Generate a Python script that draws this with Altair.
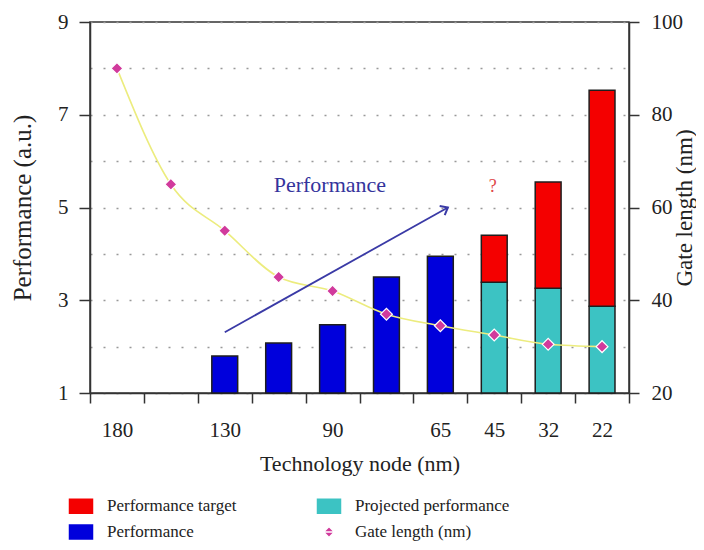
import altair as alt
import pandas as pd

# ---------------- data ----------------
tick_labels = ["180", "", "130", "", "90", "", "65", "45", "32", "22"]
gate_length = [90, 65, 55, 45, 42, 37, 34.5, 32.5, 30.5, 30]
performance = [None, None, 1.8, 2.08, 2.47, 3.5, 3.95, None, None, None]
projected = [None, None, None, None, None, None, None, 3.39, 3.26, 2.87]
target = [None, None, None, None, None, None, None, 4.40, 5.55, 7.53]
left_ticks = [1, 3, 5, 7, 9]
right_ticks = [20, 40, 60, 80, 100]
series_names = ["Performance target", "Performance", "Projected performance", "Gate length (nm)"]
series_colors = ["#f40000", "#0000dc", "#3cc3c3", "#d13a9c"]
annot_text = ["Performance", "?"]
annot_x = [4.45, 7.47]
annot_y = [5.48, 5.45]
arrow_x = [2.5, 6.64]
arrow_y = [2.31, 5.0]

FONT = "Liberation Serif"
positions = list(range(len(tick_labels)))
base = left_ticks[0]

rows = []
for i in positions:
    if performance[i] is not None:
        rows.append(dict(pos=i, series="Performance", low=base, high=performance[i]))
    if projected[i] is not None:
        rows.append(dict(pos=i, series="Projected performance", low=base, high=projected[i]))
        rows.append(dict(pos=i, series="Performance target", low=projected[i], high=target[i]))
bars_df = pd.DataFrame(rows)
gate_df = pd.DataFrame({"pos": positions, "gate": gate_length})
arrow_df = pd.DataFrame({"ax": arrow_x, "ay": arrow_y})
head_df = arrow_df.tail(1)
perf_df = pd.DataFrame({"tx": annot_x[:1], "ty": annot_y[:1], "t": annot_text[:1]})
q_df = pd.DataFrame({"tx": annot_x[1:], "ty": annot_y[1:], "t": annot_text[1:]})

label_array = "[" + ",".join("'" + t + "'" for t in tick_labels) + "]"
grid_vals = list(range(left_ticks[0], left_ticks[-1] + 1))

x_band_scale = alt.Scale(type="band", domain=positions, paddingInner=0, paddingOuter=0)
y_left_scale = alt.Scale(domain=[left_ticks[0], left_ticks[-1]], nice=False, zero=False)
y_right_scale = alt.Scale(domain=[right_ticks[0], right_ticks[-1]], nice=False, zero=False)
xq_scale = alt.Scale(domain=[0, len(positions)], nice=False, zero=False)

legend_shape = ("datum.label === 'Gate length (nm)' ? "
                "'M-1,0L1,0M0,-0.42L0.42,0L0,0.42L-0.42,0Z' : "
                "'M-1,-0.65L1,-0.65L1,0.65L-1,0.65Z'")
legend_stroke = "datum.label === 'Gate length (nm)' ? '#dede66' : '#222222'"

color_enc = alt.Color(
    "series:N",
    scale=alt.Scale(domain=series_names, range=series_colors),
    legend=alt.Legend(
        title=None, orient="none", legendX=-23, legendY=470, columns=2,
        columnPadding=76, rowPadding=0, symbolSize=676, labelFontSize=17,
        labelOffset=12, padding=0, labelFont=FONT, labelColor="#222",
        symbolType=alt.ExprRef(expr=legend_shape),
        symbolStrokeColor=alt.ExprRef(expr=legend_stroke),
        symbolStrokeWidth=1.5, symbolOpacity=1,
    ),
)

bars = alt.Chart(bars_df).mark_bar(
    width=alt.RelativeBandSize(0.48), stroke="#1e1e1e", strokeWidth=1.5
).encode(
    x=alt.X("pos:O", scale=x_band_scale, sort=positions,
            axis=alt.Axis(title="Technology node (nm)", labelExpr=label_array + "[datum.value]",
                          tickBand="extent", labelAngle=0, tickSize=10, labelPadding=16,
                          titlePadding=13, grid=False)),
    y=alt.Y("high:Q", scale=y_left_scale,
            axis=alt.Axis(values=grid_vals, title="Performance (a.u.)", orient="left",
                          labelExpr="datum.value % 2 == 1 ? datum.label : ''",
                          tickOpacity={"condition": {"test": "datum.value % 2 == 0", "value": 0}, "value": 1},
                          grid=True, gridDash=[2, 11], gridColor="#999999", gridWidth=1.5,
                          tickSize=11, labelPadding=11, titleFontSize=25,
                          titleBaseline="middle", titlePadding=35)),
    y2="low:Q",
    color=color_enc,
)

line = alt.Chart(gate_df).mark_line(color="#ecec7e", strokeWidth=1.6, interpolate="monotone").encode(
    x=alt.X("pos:O", scale=x_band_scale, sort=positions, axis=None),
    y=alt.Y("gate:Q", scale=y_right_scale,
            axis=alt.Axis(values=right_ticks, orient="right", title="Gate length (nm)",
                          titleAngle=270, titleFontSize=23, titleBaseline="middle",
                          tickSize=10, labelPadding=12, titlePadding=2, grid=False)),
)

points = alt.Chart(gate_df).mark_point(
    shape="diamond", filled=True, size=140, stroke="white", strokeWidth=1.2, opacity=1
).encode(
    x=alt.X("pos:O", scale=x_band_scale, sort=positions, axis=None),
    y=alt.Y("gate:Q", scale=y_right_scale, axis=None),
    color=alt.ColorDatum("Gate length (nm)"),
)

arrow = alt.Chart(arrow_df).mark_line(color="#3a3aa6", strokeWidth=1.8).encode(
    x=alt.X("ax:Q", scale=xq_scale, axis=None),
    y=alt.Y("ay:Q", scale=y_left_scale, axis=None),
)
head = alt.Chart(head_df).mark_point(
    shape="M-1,-0.8L0,0L-1,0.8", filled=False, size=170, angle=331,
    color="#3a3aa6", strokeWidth=2, opacity=1
).encode(
    x=alt.X("ax:Q", scale=xq_scale, axis=None),
    y=alt.Y("ay:Q", scale=y_left_scale, axis=None),
)

perf_text = alt.Chart(perf_df).mark_text(font=FONT, fontSize=22, color="#34349c").encode(
    x=alt.X("tx:Q", scale=xq_scale, axis=None),
    y=alt.Y("ty:Q", scale=y_left_scale, axis=None),
    text="t:N",
)
q_text = alt.Chart(q_df).mark_text(font=FONT, fontSize=18, color="#e04848").encode(
    x=alt.X("tx:Q", scale=xq_scale, axis=None),
    y=alt.Y("ty:Q", scale=y_left_scale, axis=None),
    text="t:N",
)

chart = alt.layer(bars, line, points, arrow, head, perf_text, q_text).resolve_scale(
    x="independent", y="independent", color="shared"
).properties(
    width=539, height=371,
    autosize=alt.AutoSizeParams(type="none"),
    padding={"left": 82, "top": 14, "right": 67, "bottom": 149},
).configure_view(
    stroke="#333333", strokeWidth=1.5
).configure_axis(
    labelFont=FONT, titleFont=FONT, labelFontSize=21, titleFontSize=22,
    titleFontWeight="normal", labelColor="#222", titleColor="#222",
    domainColor="#333333", domainWidth=1.5, tickColor="#333333", tickWidth=1.5,
)

chart.save("out.html", embed_options={"renderer": "svg", "actions": False})
